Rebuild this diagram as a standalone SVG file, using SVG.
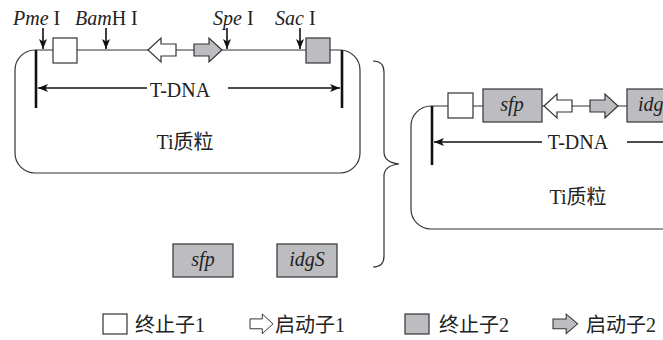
<svg xmlns="http://www.w3.org/2000/svg" width="663" height="340" viewBox="0 0 663 340">
<style>
.ln{fill:none;stroke:#333;stroke-width:1.2}
.thick{stroke:#111;stroke-width:2.6}
.wbox{fill:#fff;stroke:#333;stroke-width:1.2}
.gbox{fill:#bdbdc1;stroke:#333;stroke-width:1.2}
.t{font-family:"Liberation Serif","Noto Sans CJK SC",serif;font-size:20px;fill:#222}
.it{font-style:italic}
.mid{text-anchor:middle}
.arr{stroke:#111;stroke-width:1.6;fill:none}
</style>
<defs>
<marker id="ah" viewBox="0 0 10 8" refX="10" refY="4" markerWidth="10" markerHeight="8" markerUnits="userSpaceOnUse" orient="auto">
<path d="M0,0 L10,4 L0,8 L2.5,4 Z" fill="#111"/>
</marker>
<path id="la" d="M0,12 L13,0 L13,6 L28,6 L28,18 L13,18 L13,24 Z"/>
<path id="ra" d="M0,6 L15,6 L15,0 L28,12 L15,24 L15,18 L0,18 Z"/>
</defs>

<g id="plasmid-left">
<rect class="ln" x="15" y="50" width="345" height="123" rx="20"/>
<line class="ln thick" x1="36" y1="50" x2="36" y2="108"/>
<line class="ln thick" x1="342" y1="50" x2="342" y2="108"/>
<rect class="wbox" x="53" y="38" width="24" height="25"/>
<use href="#la" x="148" y="38" class="wbox"/>
<use href="#ra" x="194" y="38" class="gbox"/>
<rect class="gbox" x="306" y="38" width="24" height="25"/>
<text class="t mid" x="180" y="97">T-DNA</text>
<text class="t mid" x="185" y="149">Ti质粒</text>
</g>

<g id="sites">
<text class="t" x="13" y="25"><tspan class="it">Pme</tspan> I</text>
<text class="t" x="75" y="25"><tspan class="it">Bam</tspan>H I</text>
<text class="t" x="213" y="25"><tspan class="it">Spe</tspan> I</text>
<text class="t" x="275" y="25"><tspan class="it">Sac</tspan> I</text>
</g>

<g id="gene-sfp">
<rect class="gbox" x="173" y="244" width="60" height="33"/>
<text class="t it mid" x="203" y="266">sfp</text>
</g>
<g id="gene-idgS">
<rect class="gbox" x="277" y="244" width="60" height="33"/>
<text class="t it mid" x="307" y="266">idgS</text>
</g>

<g id="brace">
<path class="ln" d="M373,61 C380,61 384,64 384,72 L384,152 C384,160 390,163 399,164 C390,165 384,168 384,176 L384,256 C384,264 380,267 373,267"/>
</g>

<g id="plasmid-right">
<rect class="ln" x="411" y="106" width="300" height="123" rx="20"/>
<line class="ln thick" x1="432" y1="106" x2="432" y2="165"/>
<rect class="wbox" x="448" y="93" width="25" height="25"/>
<rect class="gbox" x="483" y="89" width="59" height="33"/>
<text class="t it mid" x="512" y="111">sfp</text>
<use href="#la" x="544" y="94" class="wbox"/>
<use href="#ra" x="590" y="94" class="gbox"/>
<rect class="gbox" x="627" y="89" width="60" height="33"/>
<text class="t it" x="638" y="111">idgS</text>
<text class="t mid" x="578" y="149">T-DNA</text>
<text class="t mid" x="578" y="204">Ti质粒</text>
</g>

<g id="connectors">
<line class="arr" x1="43" y1="28" x2="43" y2="49" marker-end="url(#ah)"/>
<line class="arr" x1="106" y1="28" x2="106" y2="49" marker-end="url(#ah)"/>
<line class="arr" x1="227" y1="28" x2="227" y2="49" marker-end="url(#ah)"/>
<line class="arr" x1="300" y1="28" x2="300" y2="49" marker-end="url(#ah)"/>
<line class="arr" x1="147" y1="88" x2="38" y2="88" marker-end="url(#ah)"/>
<line class="arr" x1="228" y1="88" x2="340" y2="88" marker-end="url(#ah)"/>
<line class="arr" x1="542" y1="142" x2="434" y2="142" marker-end="url(#ah)"/>
<line class="arr" x1="627" y1="142" x2="663" y2="142"/>
</g>

<g id="legend">
<rect class="wbox" x="103" y="314" width="24" height="20"/>
<text class="t" x="135" y="332">终止子1</text>
<use href="#ra" transform="translate(250,314) scale(0.82)" class="wbox"/>
<text class="t" x="275" y="332">启动子1</text>
<rect class="gbox" x="405" y="314" width="24" height="20"/>
<text class="t" x="439" y="332">终止子2</text>
<use href="#ra" transform="translate(553,314) scale(0.88,0.82)" class="gbox"/>
<text class="t" x="586" y="332">启动子2</text>
</g>
</svg>
